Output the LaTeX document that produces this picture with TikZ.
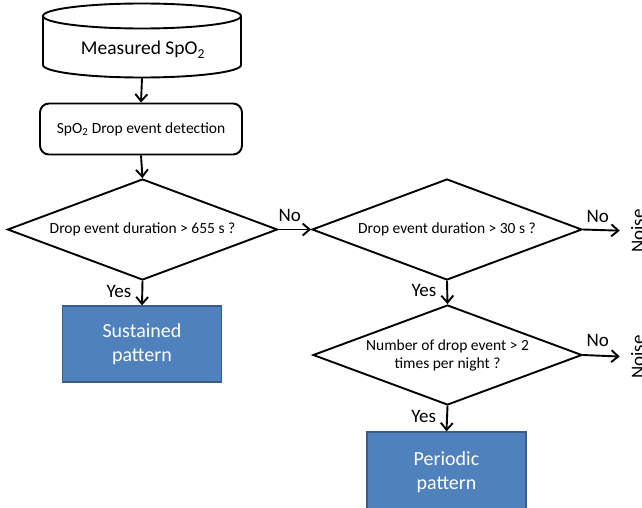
\documentclass[tikz,border=0pt]{standalone}
\usepackage{fontspec}
\setmainfont{Carlito}
\usetikzlibrary{shapes.geometric,arrows.meta}
\definecolor{boxblue}{HTML}{4F81BD}
\definecolor{boxline}{HTML}{385D8A}
\begin{document}
\begin{tikzpicture}[x=1pt,y=-1pt,
  line/.style={line width=1.9pt},
  arr/.style={line, -{Straight Barb[length=7pt,width=12pt]}},
  dec/.style={diamond, draw, line width=1.9pt, aspect=2.67, inner sep=0pt,
    minimum width=270pt, minimum height=101pt,
    font=\fontsize{15.5}{18}\selectfont, align=center},
  proc/.style={draw, line width=1.9pt, rounded corners=9pt,
    minimum width=202pt, minimum height=51pt, font=\fontsize{15.5}{18}\selectfont},
  result/.style={draw=boxline, fill=boxblue, line width=1.3pt,
    minimum width=159pt, minimum height=76pt, text=white,
    font=\fontsize{20}{23.5}\selectfont, align=center},
  lbl/.style={font=\fontsize{19}{22}\selectfont, inner sep=0pt},
  big/.style={font=\fontsize{19.5}{23}\selectfont, inner sep=0pt}]
\useasboundingbox (0,0) rectangle (642,508);
\clip (0,0) rectangle (642,508);

% cylinder (data store)
\draw[line] (43,16) -- (43,65) arc[start angle=180, end angle=360, x radius=99pt, y radius=12.5pt] -- (241,16);
\draw[line] (142,16) ellipse [x radius=99pt, y radius=12.5pt];
\node[big, anchor=base] (meas) at (143,55) {Measured SpO\textsubscript{2}};
\coordinate (measbot) at (142,78);

\node[proc] (det) at (141,129) {SpO\textsubscript{2} Drop event detection};
\node[dec] (d1) at (142.5,229.5) {Drop event duration > 655 s ?};
\node[dec] (d2) at (447,229.5) {Drop event duration > 30 s ?};
\node[dec, minimum width=269pt, minimum height=100pt] (d3) at (447.5,355) {Number of drop event > 2\\times per night ?};
\node[result] (sus) at (142,344) {Sustained\\pattern};
\node[result, minimum height=80pt] (per) at (446.5,472) {Periodic\\pattern};
\node[lbl, rotate=90, anchor=base] (noise1) at (644,231) {Noise};
\node[lbl, rotate=90, anchor=base] (noise2) at (644,357) {Noise};

\draw[arr] (measbot) -- (det.north);
\draw[arr] (det.south) -- (d1.north);
\draw[arr] (d1.east) -- node[lbl, above=7pt, xshift=-5pt] {No} (d2.west);
\draw[arr] (d1.south) -- node[lbl, left=10pt, yshift=2pt] {Yes} (sus.north);
\draw[arr, shorten >=11pt] (d2.east) -- node[lbl, above=7pt, xshift=-9pt] {No} (noise1.north);
\draw[arr] (d2.south) -- node[lbl, left=10pt, yshift=2pt] {Yes} (d3.north);
\draw[arr, shorten >=11pt] (d3.east) -- node[lbl, above=8pt, xshift=-9pt] {No} (noise2.north);
\draw[arr] (d3.south) -- node[lbl, left=10pt, yshift=2pt] {Yes} (per.north);
\end{tikzpicture}
\end{document}
